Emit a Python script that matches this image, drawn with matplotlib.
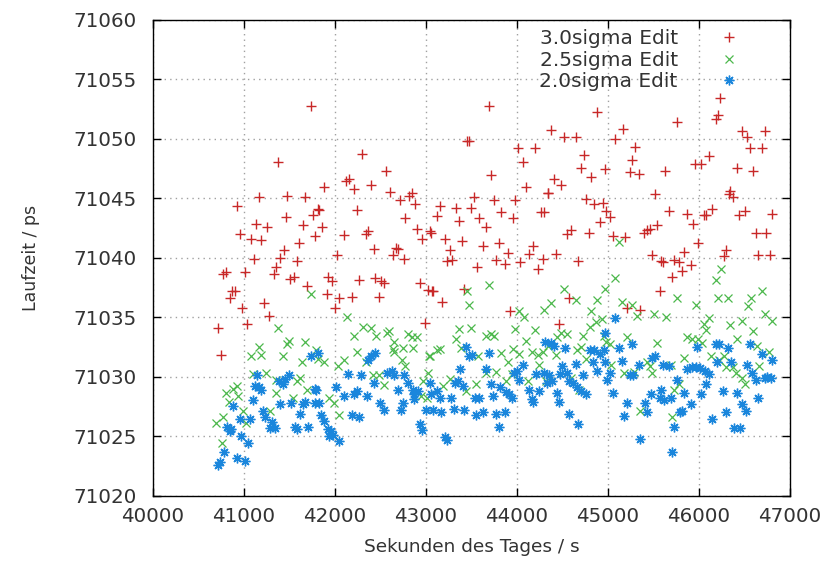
import numpy as np
import matplotlib
matplotlib.use('Agg')
import matplotlib.pyplot as plt

# Laufzeit-Messungen nach sigma-Editierung (Werte aus dem Bild geschaetzt)
red_x = [41731, 41376, 41164, 41477, 41667, 40923, 41457, 41135, 41252, 41646,
         41757, 41811, 40952, 41080, 41190, 41785, 41609, 41434, 41398, 41106,
         41580, 41346, 41325, 40770, 40807, 41007, 41544, 41508, 40872, 40898,
         40844, 41687, 40982, 41219, 41274, 41037, 40716, 40742,
         42296, 42559, 42121, 42150, 42212, 42395, 41883, 42607, 42716, 42808,
         42841, 42877, 42241, 41828, 42768, 41854, 42095, 42340, 42358, 42899,
         42950, 43045, 42424, 42669, 42687, 42632, 42753, 42022, 41927, 41963,
         42267, 42439, 42504, 42541, 42936, 43016, 43060, 41912, 42048, 42183,
         42479, 42000, 42987,
         43689, 43448, 43477, 44007, 44201, 44069, 43715, 44095, 44336, 43525,
         43744, 43982, 43148, 43324, 43496, 43119, 43825, 44263, 44300, 43360,
         43587, 43661, 43953, 43057, 43203, 43393, 43265, 43624, 43799, 43898,
         44172, 44135, 44281, 43228, 43287, 43561, 43770, 43872, 44033, 44227,
         43075, 43178, 43415, 43923,
         44879, 44368, 44514, 44642, 45161, 45080, 45300, 44733, 45263, 44704,
         44971, 44817, 45237, 45336, 44405, 44485, 44339, 45512, 44762, 44843,
         44945, 44982, 45026, 44916, 44543, 44594, 44788, 45055, 45190, 45391,
         45428, 45457, 45537, 44433, 44671, 45482, 45581, 45567, 44569, 45208,
         45355, 44459,
         46230, 46212, 46183, 45762, 46475, 46530, 46724, 46556, 46694, 46110,
         45956, 46018, 45627, 46420, 46592, 46340, 46329, 46373, 46139, 46055,
         46080, 45671, 45872, 46439, 46505, 46804, 45934, 46622, 46738, 45993,
         45836, 46292, 46274, 46651, 46775, 45605, 45726, 45781, 45909, 45817,
         45700]
red_y = [71052.7, 71048.0, 71045.1, 71045.2, 71045.1, 71044.3, 71043.4, 71042.8, 71042.6, 71042.7,
         71043.6, 71044.1, 71042.0, 71041.6, 71041.5, 71041.8, 71041.2, 71040.6, 71040.0, 71039.9,
         71039.7, 71039.2, 71038.6, 71038.6, 71038.8, 71038.8, 71038.4, 71038.2, 71037.2, 71037.2,
         71036.6, 71037.6, 71035.8, 71036.2, 71035.1, 71034.4, 71034.1, 71031.8,
         71048.7, 71047.3, 71046.4, 71046.6, 71045.8, 71046.1, 71045.9, 71045.5, 71044.8, 71045.2,
         71045.4, 71044.5, 71044.0, 71044.0, 71043.3, 71042.6, 71041.9, 71042.0, 71042.2, 71042.4,
         71041.6, 71042.2, 71040.7, 71040.8, 71040.7, 71040.2, 71039.9, 71040.2, 71038.4, 71038.0,
         71038.1, 71038.3, 71038.0, 71037.9, 71037.9, 71037.3, 71037.2, 71036.9, 71036.6, 71036.7,
         71036.7, 71035.8, 71034.5,
         71052.7, 71049.8, 71049.8, 71049.2, 71049.2, 71048.0, 71046.9, 71045.9, 71045.4, 71045.1,
         71044.8, 71044.8, 71044.3, 71044.2, 71044.2, 71043.5, 71043.8, 71043.8, 71043.8, 71043.1,
         71043.3, 71042.6, 71043.3, 71042.1, 71041.6, 71041.4, 71040.6, 71041.0, 71041.2, 71040.4,
         71041.0, 71040.3, 71039.9, 71039.7, 71039.8, 71039.2, 71039.8, 71039.5, 71039.6, 71039.0,
         71037.2, 71036.3, 71037.4, 71035.5,
         71052.2, 71050.7, 71050.1, 71050.1, 71050.8, 71050.0, 71049.3, 71048.6, 71048.2, 71047.5,
         71047.4, 71046.8, 71047.2, 71047.0, 71046.6, 71046.1, 71045.4, 71045.3, 71044.9, 71044.5,
         71044.6, 71043.9, 71043.4, 71043.0, 71042.0, 71042.3, 71042.1, 71041.8, 71041.7, 71042.1,
         71042.3, 71042.4, 71042.7, 71040.3, 71039.7, 71040.2, 71039.7, 71037.2, 71036.6, 71035.8,
         71035.6, 71034.4,
         71053.4, 71052.0, 71051.6, 71051.4, 71050.6, 71050.1, 71050.6, 71049.2, 71049.2, 71048.5,
         71047.9, 71047.9, 71047.3, 71047.5, 71047.3, 71045.6, 71045.3, 71045.1, 71044.1, 71043.6,
         71043.6, 71043.9, 71043.7, 71043.6, 71043.9, 71043.7, 71042.8, 71042.1, 71042.1, 71041.2,
         71040.5, 71040.6, 71040.1, 71040.2, 71040.2, 71039.6, 71039.8, 71039.6, 71039.4, 71038.9,
         71038.4]

green_x = [41731, 41373, 41164, 41080, 41190, 41471, 41493, 41675, 41427, 41640,
           41793, 41811, 41099, 41245, 41347, 41610, 41581, 40923, 40880, 40807,
           40934, 40836, 41347, 41687, 41281, 40990, 40770, 40697, 41026, 40753,
           41537,
           42132, 42303, 42395, 42212, 42446, 42570, 42596, 42804, 42841, 42899,
           42651, 42632, 42742, 42851, 42241, 42340, 41876, 42029, 42102, 42651,
           42731, 42768, 43034, 43016, 42486, 42413, 42534, 42961, 41938, 41993,
           42048, 42943, 43009,
           43689, 43448, 43470, 44018, 44073, 44300, 43360, 43496, 43324, 43661,
           43715, 43744, 43982, 44201, 44095, 43386, 43148, 43119, 43039, 43569,
           43825, 43953, 44026, 44166, 44227, 43898, 44245, 44281, 43770, 43661,
           43946, 43550, 43185, 43265, 43434, 43879, 44117, 44318,
           45117, 45080, 44514, 44971, 44642, 44879, 45154, 44368, 45263, 45318,
           45505, 44817, 44934, 44872, 44799, 44551, 44485, 44441, 44339, 44726,
           44960, 45208, 44978, 44704, 45018, 45537, 44423, 44660, 44752, 45428,
           45464, 45037, 45179, 45289, 45479, 44594, 44678, 45355,
           46238, 46183, 45762, 46212, 46322, 46687, 46567, 46541, 45971, 45635,
           46724, 46804, 46475, 46110, 46055, 46340, 46592, 46073, 45872, 45927,
           45993, 46029, 46420, 46636, 46767, 46128, 45836, 46220, 46274, 45689,
           46292, 46373, 46658, 46409, 46468, 46504, 45781, 45726, 45707]
green_y = [71036.9, 71034.1, 71032.5, 71031.7, 71031.8, 71032.7, 71033.0, 71032.9, 71031.7, 71031.2,
           71032.2, 71031.5, 71030.2, 71030.3, 71029.7, 71029.9, 71029.6, 71029.2, 71029.0, 71028.6,
           71028.4, 71027.9, 71028.6, 71028.9, 71027.1, 71027.1, 71026.6, 71026.1, 71026.1, 71024.4,
           71028.2,
           71035.0, 71034.2, 71034.1, 71033.4, 71033.4, 71033.7, 71033.8, 71033.6, 71033.3, 71033.3,
           71032.9, 71032.3, 71032.4, 71032.4, 71032.1, 71031.2, 71031.2, 71030.9, 71031.4, 71032.1,
           71031.4, 71030.9, 71031.7, 71030.3, 71030.1, 71030.1, 71029.3, 71029.6, 71028.2, 71027.8,
           71026.8, 71028.4, 71028.2,
           71037.7, 71037.2, 71036.0, 71035.5, 71035.0, 71035.6, 71034.0, 71034.1, 71033.2, 71033.4,
           71033.6, 71033.4, 71034.0, 71033.9, 71033.0, 71032.4, 71032.3, 71032.2, 71031.7, 71031.7,
           71032.0, 71032.3, 71031.9, 71032.1, 71031.8, 71031.2, 71031.0, 71032.1, 71030.4, 71030.3,
           71030.2, 71029.4, 71029.2, 71029.8, 71028.8, 71029.6, 71029.6, 71029.6,
           71041.3, 71038.3, 71037.4, 71037.4, 71036.4, 71036.4, 71036.3, 71036.2, 71036.0, 71035.1,
           71035.3, 71035.5, 71034.8, 71034.6, 71034.2, 71033.6, 71033.7, 71033.3, 71032.6, 71033.4,
           71033.4, 71033.3, 71032.9, 71032.5, 71032.7, 71032.8, 71031.8, 71032.2, 71031.5, 71031.2,
           71030.9, 71031.0, 71030.3, 71030.4, 71030.3, 71029.9, 71028.9, 71027.1,
           71039.0, 71038.1, 71036.6, 71036.6, 71036.6, 71037.2, 71036.6, 71035.9, 71036.0, 71035.0,
           71035.3, 71034.7, 71034.7, 71034.9, 71034.4, 71034.3, 71033.8, 71033.9, 71033.3, 71033.2,
           71033.2, 71032.8, 71033.2, 71032.6, 71032.1, 71031.7, 71031.6, 71031.4, 71031.7, 71031.0,
           71030.8, 71030.8, 71030.9, 71030.3, 71029.9, 71029.4, 71029.4, 71028.9, 71026.6]

blue_x = [41738, 41811, 41143, 41117, 41164, 41190, 41379, 41426, 41450, 41499,
          41775, 41099, 40880, 41394, 41518, 41646, 41675, 41610, 41775, 40952,
          41070, 41208, 41227, 41311, 41336, 41281, 41555, 41580, 41701, 40814,
          40844, 40862, 40969, 41041, 40775, 40919, 41007, 40716, 40735,
          42395, 42442, 42358, 42139, 42285, 42570, 42621, 42651, 42760, 42797,
          42424, 41792, 41828, 42011, 42102, 42205, 42241, 42351, 42687, 42851,
          42870, 42906, 43053, 42497, 42742, 42870, 42998, 42534, 42724, 41846,
          42183, 42267, 41883, 41920, 41956, 41938, 41975, 42048, 42936, 42950,
          43441, 43689, 44311, 43477, 43506, 43368, 43661, 43971, 43996, 44069,
          44018, 44208, 44300, 43039, 43313, 43349, 43715, 43404, 43813, 44135,
          44245, 43123, 43276, 43156, 43543, 43587, 43733, 43879, 43915, 43946,
          44164, 44179, 43075, 43167, 43302, 43412, 43550, 43624, 43770, 43872,
          43799, 43203, 43228,
          45073, 44963, 45263, 44368, 44405, 44522, 44799, 44843, 44916, 44953,
          45117, 45154, 45482, 45519, 44496, 44642, 44836, 44971, 45026, 45336,
          44350, 44470, 44543, 44880, 44332, 44386, 44569, 44726, 44989, 45237,
          45274, 44613, 44660, 44697, 44752, 44438, 44463, 45055, 45471, 45409,
          45574, 45208, 45428, 44569, 45179, 44671, 45355,
          45974, 46183, 46220, 46322, 46556, 46687, 46804, 46201, 46347, 46530,
          45598, 45671, 45872, 45920, 45963, 46007, 46066, 46110, 46585, 46621,
          46724, 46749, 46785, 45762, 46073, 45580, 45836, 46263, 46420, 45616,
          45689, 46018, 45909, 46475, 46651, 46512, 45788, 45810, 46292, 45726,
          46139, 46384, 46446, 45700]
blue_y = [71031.7, 71032.0, 71030.1, 71029.2, 71029.1, 71028.9, 71029.6, 71029.4, 71029.8, 71030.1,
          71029.0, 71028.0, 71027.5, 71027.7, 71027.8, 71027.7, 71027.9, 71026.9, 71027.8, 71026.4,
          71026.4, 71027.1, 71026.6, 71026.2, 71025.7, 71025.7, 71025.8, 71025.6, 71025.8, 71025.8,
          71025.4, 71025.6, 71025.0, 71024.4, 71023.7, 71023.2, 71022.9, 71022.6, 71022.8,
          71031.7, 71032.0, 71031.4, 71030.2, 71030.1, 71030.3, 71030.5, 71030.1, 71030.1, 71029.5,
          71029.5, 71028.9, 71027.8, 71029.1, 71028.4, 71028.5, 71028.8, 71028.4, 71028.9, 71028.9,
          71028.5, 71028.8, 71028.5, 71027.8, 71027.8, 71028.1, 71027.2, 71027.2, 71027.2, 71026.8,
          71026.8, 71026.6, 71026.3, 71025.6, 71025.4, 71025.0, 71025.1, 71024.6, 71026.0, 71025.5,
          71032.5, 71032.0, 71032.9, 71031.7, 71031.8, 71030.6, 71030.6, 71030.3, 71030.5, 71031.0,
          71029.7, 71030.2, 71030.3, 71029.5, 71029.5, 71029.6, 71029.4, 71029.2, 71029.1, 71028.9,
          71028.8, 71028.8, 71028.2, 71028.2, 71028.2, 71028.2, 71028.4, 71028.7, 71028.5, 71028.2,
          71028.1, 71027.9, 71027.2, 71027.0, 71027.3, 71027.2, 71026.8, 71027.0, 71026.9, 71027.0,
          71025.8, 71024.9, 71024.7,
          71034.9, 71033.7, 71032.7, 71032.8, 71032.6, 71032.4, 71032.2, 71032.2, 71031.9, 71032.2,
          71032.4, 71031.3, 71031.6, 71031.7, 71030.9, 71031.1, 71031.2, 71031.2, 71030.3, 71031.0,
          71030.1, 71030.2, 71030.3, 71030.5, 71029.5, 71029.6, 71029.6, 71030.1, 71029.7, 71030.1,
          71030.1, 71029.5, 71029.1, 71028.8, 71028.5, 71028.6, 71027.9, 71028.6, 71028.5, 71027.8,
          71028.2, 71027.8, 71027.0, 71026.9, 71026.7, 71026.0, 71024.8,
          71032.5, 71032.7, 71032.7, 71032.4, 71032.7, 71031.9, 71031.4, 71031.2, 71031.2, 71031.0,
          71031.0, 71030.9, 71030.6, 71030.8, 71030.8, 71030.7, 71030.5, 71030.2, 71030.3, 71029.7,
          71029.9, 71030.0, 71029.9, 71029.7, 71029.4, 71028.9, 71028.6, 71028.8, 71028.6, 71028.0,
          71028.2, 71028.5, 71027.7, 71027.7, 71028.2, 71027.1, 71027.0, 71027.1, 71027.0, 71025.8,
          71026.4, 71025.7, 71025.7, 71023.7]

labels = ['3.0sigma Edit', '2.5sigma Edit', '2.0sigma Edit']
colors = ['#c82828', '#4cb84c', '#1a86dc']

plt.rcParams['font.family'] = 'DejaVu Sans'
fig = plt.figure(figsize=(8.29, 5.62), dpi=100)
ax = fig.add_axes([0.1846, 0.118, 0.7685, 0.8473])

ax.plot(red_x, red_y, ls='none', marker='+', ms=7, mew=1.0, color=colors[0], label=labels[0])
ax.plot(green_x, green_y, ls='none', marker='x', ms=6, mew=0.9, color=colors[1], label=labels[1])
ax.plot(blue_x, blue_y, ls='none', marker=(8, 2, 0), ms=7, mew=1.0, color=colors[2], label=labels[2])

ax.set_xlim(40000, 47000)
ax.set_ylim(71020, 71060)
ax.set_xticks(np.arange(40000, 47001, 1000))
ax.set_yticks(np.arange(71020, 71061, 5))
ax.yaxis.set_major_formatter(matplotlib.ticker.FormatStrFormatter('%d'))
ax.xaxis.set_major_formatter(matplotlib.ticker.FormatStrFormatter('%d'))

txt = '#333333'
ax.tick_params(direction='in', length=6, width=1, top=True, right=True,
               labelsize=14.3, labelcolor=txt)
ax.tick_params(axis='y', pad=12)
ax.tick_params(axis='x', pad=8)
ax.grid(True, color='#a0a0a0', ls=(0, (1, 3)), lw=1)
for s in ax.spines.values():
    s.set_linewidth(1)
    s.set_color('black')

ax.set_xlabel('Sekunden des Tages / s', fontsize=13.3, color=txt, labelpad=9)
ax.set_ylabel('Laufzeit / ps', fontsize=12.5, color=txt, labelpad=24)

leg = ax.legend(loc='upper right', bbox_to_anchor=(0.95, 1.01), frameon=False,
                markerfirst=False, fontsize=14.5, handlelength=1.5, labelspacing=0.14,
                handletextpad=1.8, borderaxespad=0.3)
for t in leg.get_texts():
    t.set_color(txt)

fig.savefig('out.png', dpi=100)
